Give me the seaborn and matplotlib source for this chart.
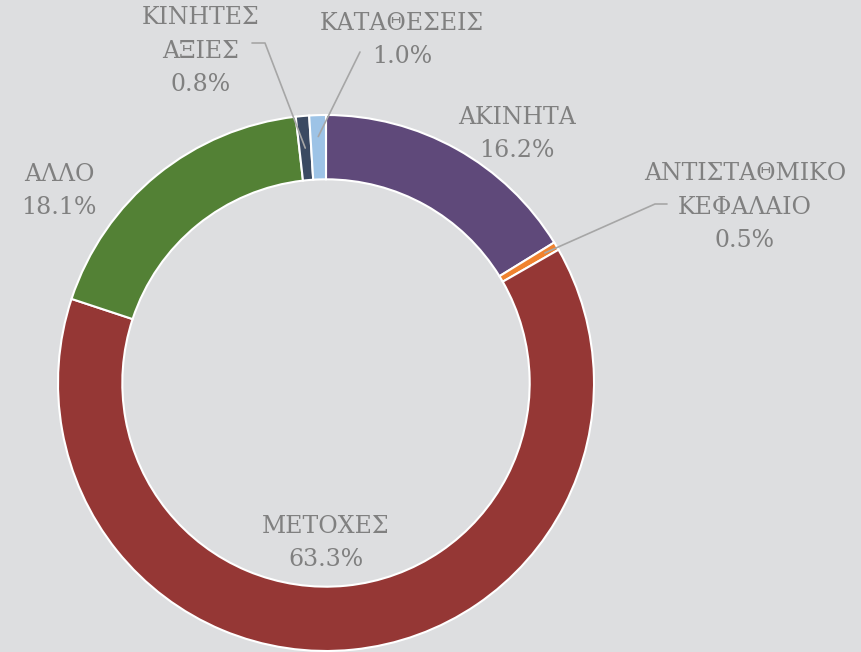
import numpy as np
import seaborn as sns
import matplotlib.pyplot as plt

# portfolio allocation (percent), clockwise from 12 o'clock
labels = ["ΑΚΙΝΗΤΑ", "ΑΝΤΙΣΤΑΘΜΙΚΟ\nΚΕΦΑΛΑΙΟ", "ΜΕΤΟΧΕΣ", "ΑΛΛΟ",
          "ΚΙΝΗΤΕΣ\nΑΞΙΕΣ", "ΚΑΤΑΘΕΣΕΙΣ"]
shares = [16.2, 0.5, 63.3, 18.1, 0.8, 1.0]
colors = ["#5F497A", "#F0822E", "#953735", "#538135", "#3B4A62", "#9DC3E6"]

bg = "#DDDEE0"
txt = "#808080"

sns.set_style("white")
plt.rcParams["font.family"] = ["DejaVu Serif", "Liberation Serif", "DejaVu Sans"]

W, H = 861, 652
cx, cy, R = 326, 383, 268   # pixel centre / radius of the ring


def px(x, y):
    # pixel (from top-left) -> data coords where ring radius == 1
    return (x - cx) / R, (cy - y) / R


fig = plt.figure(figsize=(W / 100, H / 100), dpi=100, facecolor=bg)
ax = fig.add_axes([0, 0, 1, 1])
ax.set_facecolor(bg)

wedges, _ = ax.pie(shares, colors=colors, startangle=90, counterclock=False,
                   radius=1, wedgeprops=dict(width=0.24, edgecolor="white", linewidth=1.5))

ax.set_xlim((0 - cx) / R, (W - cx) / R)
ax.set_ylim((cy - H) / R, cy / R)
ax.set_aspect("auto")
ax.axis("off")

# label position (pixels) and optional leader line elbow
label_pos = [(517, 134), (745, 207), (326, 543), (59, 191), (201, 51), (402, 40)]
elbows = [None, [(667, 204), (655, 204)], None, None, [(252, 43), (265, 43)], [(360, 52)]]
r_anchor = [None, 0.95, None, None, 0.88, 0.92]

for w, lab, v, pos, elb, ra in zip(wedges, labels, shares, label_pos, elbows, r_anchor):
    x, y = px(*pos)
    ax.text(x, y, f"{lab}\n{v:.1f}%", ha="center", va="center", fontsize=17,
            color=txt, linespacing=1.6)
    if elb is not None:
        mid = np.deg2rad((w.theta1 + w.theta2) / 2)
        pts = [px(*p) for p in elb] + [(ra * np.cos(mid), ra * np.sin(mid))]
        xs, ys = zip(*pts)
        ax.plot(xs, ys, color="#A6A6A6", lw=1.2, zorder=5)

fig.savefig("out.png", dpi=100, facecolor=bg)
